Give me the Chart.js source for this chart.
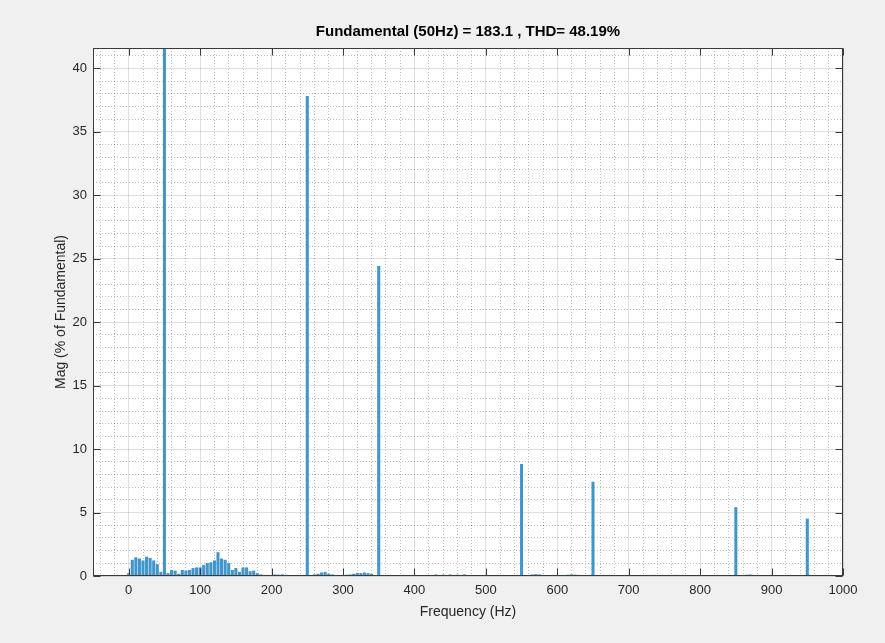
<!DOCTYPE html>
<html>
<head>
<meta charset="utf-8">
<script src="https://cdn.jsdelivr.net/npm/chart.js@4/dist/chart.umd.min.js"></script>
<style>
  html, body { margin: 0; padding: 0; background: #f0f0f0; }
  #wrap { width: 885px; height: 643px; }
</style>
</head>
<body>
<div id="wrap"><canvas id="spectrum" width="885" height="643"></canvas></div>
<script>
// Harmonic spectrum, magnitudes in % of the 50 Hz fundamental
const titleText = 'Fundamental (50Hz) = 183.1 , THD= 48.19%';

// dominant harmonics
const harmonicHz  = [50, 250, 350, 550, 650, 850, 950];
const harmonicPct = [100, 37.8, 24.4, 8.8, 7.4, 5.4, 4.5];

// low-frequency components (5 Hz bins)
const lowBandHz  = [0, 5, 10, 15, 20, 25, 30, 35, 40, 45, 55, 60, 65, 70, 75, 80, 85, 90, 95,
                    100, 105, 110, 115, 120, 125, 130, 135, 140, 145, 150, 155, 160, 165, 170,
                    175, 180, 185, 190, 195, 205, 210, 215, 220, 230, 240];
const lowBandPct = [0.2, 1.25, 1.45, 1.35, 1.2, 1.5, 1.4, 1.2, 0.9, 0.3, 0.2, 0.45, 0.4, 0.15, 0.45, 0.4, 0.45, 0.6, 0.65,
                    0.65, 0.85, 1.0, 1.05, 1.2, 1.85, 1.35, 1.25, 1.0, 0.45, 0.6, 0.3, 0.65, 0.65, 0.35,
                    0.4, 0.2, 0.1, 0.06, 0.05, 0.1, 0.08, 0.1, 0.06, 0.05, 0.05];

// components between the 5th and 7th harmonics
const midBandHz  = [255, 260, 265, 270, 275, 280, 285, 290, 295, 305, 310, 315, 320, 325, 330, 335, 340, 345];
const midBandPct = [0.05, 0.1, 0.15, 0.25, 0.3, 0.15, 0.1, 0.05, 0.05, 0.08, 0.1, 0.15, 0.2, 0.2, 0.25, 0.2, 0.15, 0.05];

// small components above the 7th harmonic
const highBandHz  = [420, 430, 440, 450, 460, 470, 480, 565, 570, 575, 580, 615, 620, 625, 630,
                     720, 735, 750, 765, 780, 865, 870, 880];
const highBandPct = [0.06, 0.1, 0.08, 0.1, 0.08, 0.1, 0.06, 0.1, 0.12, 0.1, 0.06, 0.08, 0.1, 0.08, 0.06,
                     0.05, 0.06, 0.05, 0.06, 0.05, 0.08, 0.1, 0.06];

// axis ticks
const xTickLabels = [0, 100, 200, 300, 400, 500, 600, 700, 800, 900, 1000];
const yTickLabels = [0, 5, 10, 15, 20, 25, 30, 35, 40];
const xMinorStep = 20;
const yMinorStep = 1;

const FONT = "'Liberation Sans', Arial, Helvetica, sans-serif";
const TEXT = '#262626';
const AXIS = '#3a3a3a';

function toPoints(hz, pct) { return hz.map((f, i) => ({ x: f, y: pct[i] })); }
const spectrum = []
  .concat(toPoints(lowBandHz, lowBandPct))
  .concat(toPoints(harmonicHz, harmonicPct))
  .concat(toPoints(midBandHz, midBandPct))
  .concat(toPoints(highBandHz, highBandPct))
  .sort((a, b) => a.x - b.x);

function isMajorX(v) { return xTickLabels.includes(v); }
function isMajorY(v) { return yTickLabels.includes(v); }

// figure background and white axes area
const backdrop = {
  id: 'backdrop',
  beforeDraw(chart) {
    const { ctx, chartArea: a } = chart;
    ctx.save();
    ctx.fillStyle = '#f0f0f0';
    ctx.fillRect(0, 0, chart.width, chart.height);
    ctx.fillStyle = '#ffffff';
    ctx.fillRect(a.left, a.top, a.right - a.left, a.bottom - a.top);
    ctx.restore();
  }
};

// axes box with inward tick marks on all four sides
const axesBox = {
  id: 'axesBox',
  afterDraw(chart) {
    const { ctx, chartArea: a, scales: { x, y } } = chart;
    const L = Math.round(a.left) + 0.5, R = Math.round(a.right) - 0.5;
    const T = Math.round(a.top) + 0.5, B = Math.round(a.bottom) - 0.5;
    const len = 7;
    ctx.save();
    ctx.strokeStyle = AXIS;
    ctx.lineWidth = 1;
    ctx.strokeRect(L, T, R - L, B - T);
    ctx.beginPath();
    xTickLabels.forEach(v => {
      const px = Math.round(x.getPixelForValue(v)) + 0.5;
      ctx.moveTo(px, B); ctx.lineTo(px, B - len);
      ctx.moveTo(px, T); ctx.lineTo(px, T + len);
    });
    yTickLabels.forEach(v => {
      const py = Math.round(y.getPixelForValue(v)) + 0.5;
      ctx.moveTo(L, py); ctx.lineTo(L + len, py);
      ctx.moveTo(R, py); ctx.lineTo(R - len, py);
    });
    ctx.stroke();
    ctx.restore();
  }
};

new Chart(document.getElementById('spectrum'), {
  type: 'bar',
  data: {
    datasets: [{
      data: spectrum,
      backgroundColor: '#3f95cc',
      borderWidth: 0,
      barThickness: 2.4
    }]
  },
  options: {
    responsive: false,
    animation: false,
    devicePixelRatio: 1,
    layout: { padding: { left: 0, right: 42, top: 0, bottom: 0 } },
    plugins: {
      legend: { display: false },
      tooltip: { enabled: false },
      title: {
        display: true,
        text: titleText,
        fullSize: false,
        color: '#000000',
        font: { family: FONT, size: 15, weight: 'bold' },
        padding: { top: 23, bottom: 7 }
      }
    },
    scales: {
      x: {
        type: 'linear',
        offset: false,
        min: -50,
        max: 1000,
        afterBuildTicks(scale) {
          const t = [];
          for (let v = -40; v <= 1000; v += xMinorStep) t.push({ value: v });
          scale.ticks = t;
        },
        afterFit(scale) { scale.height = 67; },
        ticks: {
          autoSkip: false, maxRotation: 0, minRotation: 0, padding: 7,
          color: TEXT, font: { family: FONT, size: 13 },
          callback: v => (isMajorX(v) ? String(v) : '')
        },
        grid: {
          offset: false,
          drawTicks: false,
          lineWidth: 1,
          color: c => (c.tick && isMajorX(c.tick.value) ? 'rgba(38,38,38,0.15)' : 'rgba(38,38,38,0.3)')
        },
        border: {
          display: false,
          dash: c => (c.tick && isMajorX(c.tick.value) ? [] : [1, 2])
        },
        title: {
          display: true, text: 'Frequency (Hz)', color: TEXT,
          font: { family: FONT, size: 14 },
          padding: { top: 0, bottom: 22.6 }
        }
      },
      y: {
        type: 'linear',
        min: 0,
        max: 41.6,
        afterBuildTicks(scale) {
          const t = [];
          for (let v = 0; v <= 41; v += yMinorStep) t.push({ value: v });
          scale.ticks = t;
        },
        afterFit(scale) { scale.width = 93; },
        ticks: {
          autoSkip: false, padding: 6,
          color: TEXT, font: { family: FONT, size: 13 },
          callback: v => (isMajorY(v) ? String(v) : '')
        },
        grid: {
          drawTicks: false,
          lineWidth: 1,
          color: c => (c.tick && isMajorY(c.tick.value) ? 'rgba(38,38,38,0.15)' : 'rgba(38,38,38,0.3)')
        },
        border: {
          display: false,
          dash: c => (c.tick && isMajorY(c.tick.value) ? [] : [1, 2])
        },
        title: {
          display: true, text: 'Mag (% of Fundamental)', color: TEXT,
          font: { family: FONT, size: 14 },
          padding: { top: 52.6, bottom: 0 }
        }
      }
    }
  },
  plugins: [backdrop, axesBox]
});
</script>
</body>
</html>
